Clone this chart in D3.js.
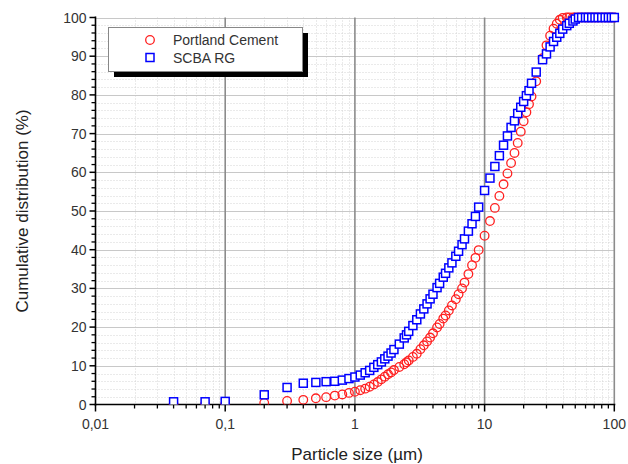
<!DOCTYPE html>
<html>
<head>
<meta charset="utf-8">
<script src="https://cdn.jsdelivr.net/npm/d3@7"></script>
<style>
  body { margin: 0; background: #fff; }
  svg { display: block; font-family: "Liberation Sans", Arial, sans-serif; }
</style>
</head>
<body>
<svg id="chart" width="628" height="464"></svg>
<script>
// particle sizes (um) of the measuring grid
var sizes = [0.04, 0.07, 0.1, 0.2, 0.3, 0.4, 0.5, 0.6, 0.7, 0.8, 0.9, 1.0, 1.1, 1.2, 1.3, 1.4, 1.5, 1.6, 1.7, 1.8, 1.9, 2.0,
  2.2, 2.4, 2.5, 2.6, 2.8, 3.0, 3.2, 3.4, 3.6, 3.8, 4.0, 4.3, 4.5, 4.8, 5.0, 5.3, 5.6, 6.0, 6.3, 6.7, 7.0, 7.5, 8.0, 8.5, 9.0,
  10, 11, 12, 13, 14, 15, 16, 17, 18, 19, 20, 21, 22, 23, 25, 28, 30, 32, 34, 36, 38, 40, 43, 45, 48, 50, 53, 56, 60, 63,
  67, 71, 75, 80, 85, 90, 95, 100];

var portlandCement = [0, 0, 0, 0.4, 0.9, 1.2, 1.6, 1.9, 2.3, 2.6, 3.0, 3.3, 3.7, 4.1, 4.6, 5.2, 5.8, 6.5, 7.2, 7.8, 8.3, 8.9,
  9.7, 10.4, 10.9, 11.4, 12.3, 13.1, 14.3, 15.3, 16.3, 17.3, 18.4, 19.9, 20.8, 22.2, 23.0, 24.3, 25.6, 27.2, 28.5, 30.0, 31.5, 33.7, 36.0, 37.9, 39.9,
  43.6, 47.4, 50.8, 53.9, 56.9, 59.7, 62.4, 65.0, 67.6, 70.5, 73.2, 75.5, 77.6, 79.6, 83.5, 89.5, 92.8, 95.3, 97.1, 98.4, 99.4, 99.9, 100, 100, 100, 100, 100, 100, 100, 100,
  100, 100, 100, 100, 100, 100, 100, 100];

var scbaRG = [0.7, 0.7, 0.8, 2.5, 4.4, 5.5, 5.7, 5.9, 6.0, 6.3, 6.7, 7.1, 7.6, 8.2, 8.8, 9.6, 10.3, 11.0, 11.8, 12.5, 13.3, 14.2,
  15.6, 17.2, 18.0, 18.9, 20.4, 21.9, 23.4, 24.7, 26.0, 27.3, 28.5, 30.2, 31.3, 32.9, 33.9, 35.3, 36.6, 38.3, 39.6, 41.3, 42.8, 44.8, 46.7, 48.6, 51.0,
  55.3, 58.5, 61.5, 64.3, 67.0, 69.4, 71.6, 73.3, 75.2, 76.8, 78.3, 79.8, 81.1, 83.0, 85.9, 89.1, 90.6, 92.4, 93.8, 94.9, 95.9, 97.0, 97.9, 98.5, 99.1, 99.6, 100, 100, 100, 100,
  100, 100, 100, 100, 100, 100, 100, 100];

var xTicks = [0.01, 0.1, 1, 10, 100];
var xTickLabels = ["0,01", "0,1", "1", "10", "100"];
var yTicks = [0, 10, 20, 30, 40, 50, 60, 70, 80, 90, 100];

var plotLeft = 95.5, plotRight = 614.3, plotTop = 17.5, plotBottom = 404.5;

var svg = d3.select("#chart");

var x = d3.scaleLog().domain([0.01, 100]).range([plotLeft, plotRight]);
var y = d3.scaleLinear().domain([0, 100]).range([plotBottom, plotTop]);

// minor values
var xMinor = [];
[0.01, 0.1, 1, 10].forEach(function (d) {
  for (var k = 2; k <= 9; k++) xMinor.push(d * k);
});
var yMinor = d3.range(0, 101, 2).filter(function (v) { return v % 10 !== 0; });

var grid = svg.append("g");

grid.selectAll(".hminor").data(yMinor).enter().append("line")
  .attr("x1", plotLeft).attr("x2", plotRight)
  .attr("y1", function (d) { return Math.round(y(d)) + 0.5; })
  .attr("y2", function (d) { return Math.round(y(d)) + 0.5; })
  .attr("stroke", "#d4d4d4").attr("stroke-dasharray", "1,2");

grid.selectAll(".vminor").data(xMinor).enter().append("line")
  .attr("y1", plotTop).attr("y2", plotBottom)
  .attr("x1", function (d) { return Math.round(x(d)) + 0.5; })
  .attr("x2", function (d) { return Math.round(x(d)) + 0.5; })
  .attr("stroke", "#d4d4d4").attr("stroke-dasharray", "1,2");

grid.selectAll(".hmajor").data(yTicks.slice(1)).enter().append("line")
  .attr("x1", plotLeft).attr("x2", plotRight)
  .attr("y1", function (d) { return Math.round(y(d)) + 0.5; })
  .attr("y2", function (d) { return Math.round(y(d)) + 0.5; })
  .attr("stroke", "#c8c8c8").attr("stroke-width", 1.2);

grid.selectAll(".vmajor").data(xTicks.slice(1)).enter().append("line")
  .attr("y1", plotTop).attr("y2", plotBottom)
  .attr("x1", function (d) { return x(d); })
  .attr("x2", function (d) { return x(d); })
  .attr("stroke", "#8c8c8c").attr("stroke-width", 1.6);

// axes
var xAxis = svg.append("g").attr("transform", "translate(0," + plotBottom + ")");
xAxis.append("line").attr("x1", plotLeft - 1).attr("x2", plotRight + 1).attr("stroke", "#000").attr("stroke-width", 1.6);
xAxis.selectAll(".xt").data(xTicks).enter().append("line")
  .attr("x1", function (d) { return x(d); }).attr("x2", function (d) { return x(d); })
  .attr("y1", 0).attr("y2", 7).attr("stroke", "#000").attr("stroke-width", 1.5);
xAxis.selectAll(".xm").data(xMinor).enter().append("line")
  .attr("x1", function (d) { return x(d); }).attr("x2", function (d) { return x(d); })
  .attr("y1", 0).attr("y2", 4).attr("stroke", "#000").attr("stroke-width", 1.3);
xAxis.selectAll(".xl").data(xTicks).enter().append("text")
  .attr("x", function (d) { return x(d); }).attr("y", 24)
  .attr("text-anchor", "middle").attr("font-size", 14).attr("fill", "#333")
  .text(function (d, i) { return xTickLabels[i]; });

var yAxis = svg.append("g").attr("transform", "translate(" + plotLeft + ",0)");
yAxis.append("line").attr("y1", plotTop - 1).attr("y2", plotBottom + 1).attr("stroke", "#000").attr("stroke-width", 1.6);
yAxis.selectAll(".yt").data(yTicks).enter().append("line")
  .attr("y1", function (d) { return y(d); }).attr("y2", function (d) { return y(d); })
  .attr("x1", 0).attr("x2", -6).attr("stroke", "#000").attr("stroke-width", 1.5);
yAxis.selectAll(".ym").data(yMinor).enter().append("line")
  .attr("y1", function (d) { return y(d); }).attr("y2", function (d) { return y(d); })
  .attr("x1", 0).attr("x2", -4).attr("stroke", "#000").attr("stroke-width", 1.3);
yAxis.selectAll(".yl").data(yTicks).enter().append("text")
  .attr("x", -9).attr("y", function (d) { return y(d) + 5; })
  .attr("text-anchor", "end").attr("font-size", 14).attr("fill", "#333")
  .text(function (d) { return d; });

svg.append("text").attr("x", 357).attr("y", 460)
  .attr("text-anchor", "middle").attr("font-size", 17).attr("fill", "#222")
  .text("Particle size (µm)");
svg.append("text")
  .attr("transform", "translate(28," + (plotTop + plotBottom) / 2 + ") rotate(-90)")
  .attr("text-anchor", "middle").attr("font-size", 17).attr("fill", "#222")
  .text("Cumulative distribution (%)");

// data
svg.append("clipPath").attr("id", "clip").append("rect")
  .attr("x", plotLeft).attr("y", 0).attr("width", 628 - plotLeft).attr("height", plotBottom);

var pts = svg.append("g").attr("clip-path", "url(#clip)");

pts.selectAll(".pc").data(sizes).enter().append("circle")
  .attr("cx", function (d) { return x(d); })
  .attr("cy", function (d, i) { return y(portlandCement[i]); })
  .attr("r", 4.3)
  .attr("fill", "none").attr("stroke", "#ff2020").attr("stroke-width", 1.3);

pts.selectAll(".sc").data(sizes).enter().append("rect")
  .attr("x", function (d) { return x(d) - 4; })
  .attr("y", function (d, i) { return y(scbaRG[i]) - 4; })
  .attr("width", 8).attr("height", 8)
  .attr("fill", "#fff").attr("stroke", "#0000ff").attr("stroke-width", 1.5);

// legend
var legend = svg.append("g");
legend.append("rect").attr("x", 114).attr("y", 33).attr("width", 194).attr("height", 44).attr("fill", "#000");
legend.append("rect").attr("x", 108.5).attr("y", 27.5).attr("width", 194).attr("height", 44)
  .attr("fill", "#fff").attr("stroke", "#888");
legend.append("circle").attr("cx", 150).attr("cy", 40).attr("r", 4.3)
  .attr("fill", "none").attr("stroke", "#ff2020").attr("stroke-width", 1.3);
legend.append("rect").attr("x", 146).attr("y", 53.5).attr("width", 8).attr("height", 8)
  .attr("fill", "#fff").attr("stroke", "#0000ff").attr("stroke-width", 1.5);
legend.append("text").attr("x", 173).attr("y", 45).attr("font-size", 14).attr("fill", "#333").text("Portland Cement");
legend.append("text").attr("x", 173).attr("y", 63).attr("font-size", 14).attr("fill", "#333").text("SCBA RG");
</script>
</body>
</html>
